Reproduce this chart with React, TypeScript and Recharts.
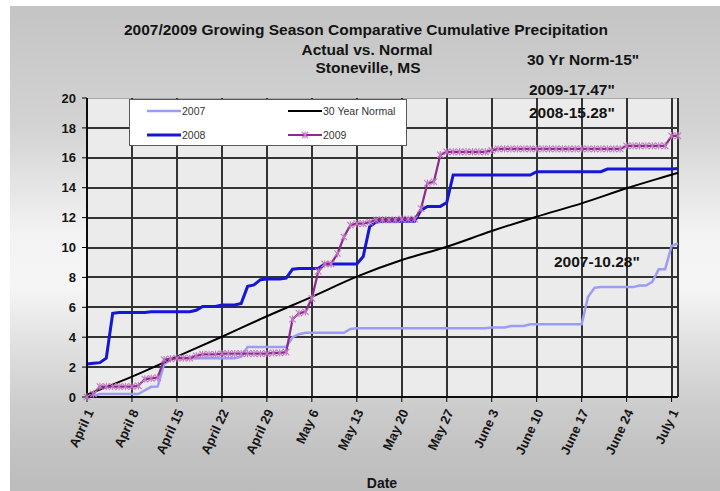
import { LineChart, Line, XAxis, YAxis, CartesianGrid, Legend } from 'recharts'

const FONT = '"Liberation Sans", Arial, Helvetica, sans-serif'

// days since April 1
const tickDays = [0, 7, 14, 21, 28, 35, 42, 49, 56, 63, 70, 77, 84, 91]
const tickLabels = [
  'April 1', 'April 8', 'April 15', 'April 22', 'April 29', 'May 6', 'May 13',
  'May 20', 'May 27', 'June 3', 'June 10', 'June 17', 'June 24', 'July 1',
]
const yTicks = [0, 2, 4, 6, 8, 10, 12, 14, 16, 18, 20]

// cumulative inches, one value per day, April 1 - July 2
const rain2007 = [
  0, 0.05, 0.2, 0.2, 0.2, 0.2, 0.2,
  0.2, 0.2, 0.45, 0.68, 0.7, 2.2, 2.5,
  2.6, 2.6, 2.6, 2.6, 2.6, 2.6, 2.6,
  2.6, 2.6, 2.6, 2.7, 3.35, 3.35, 3.35,
  3.35, 3.35, 3.35, 3.35, 4.0, 4.2, 4.3,
  4.3, 4.3, 4.3, 4.3, 4.3, 4.3, 4.55,
  4.6, 4.6, 4.6, 4.6, 4.6, 4.6, 4.6,
  4.6, 4.6, 4.6, 4.6, 4.6, 4.6, 4.6,
  4.6, 4.6, 4.6, 4.6, 4.6, 4.6, 4.6,
  4.65, 4.65, 4.65, 4.75, 4.75, 4.75, 4.86,
  4.86, 4.86, 4.86, 4.86, 4.86, 4.86, 4.86,
  4.86, 6.7, 7.3, 7.35, 7.35, 7.35, 7.35,
  7.35, 7.35, 7.45, 7.45, 7.7, 8.55, 8.55,
  10.1, 10.28,
]

const rain2008 = [
  2.2, 2.25, 2.3, 2.6, 5.6, 5.65, 5.65,
  5.65, 5.65, 5.65, 5.7, 5.7, 5.7, 5.7,
  5.7, 5.7, 5.7, 5.8, 6.05, 6.05, 6.05,
  6.15, 6.15, 6.15, 6.25, 7.4, 7.5, 7.85,
  7.9, 7.9, 7.9, 7.95, 8.55, 8.6, 8.6,
  8.6, 8.6, 8.9, 8.9, 8.9, 8.9, 8.9,
  8.9, 9.4, 11.4, 11.7, 11.75, 11.75, 11.75,
  11.75, 11.75, 11.75, 12.5, 12.75, 12.75, 12.75,
  13.0, 14.85, 14.85, 14.85, 14.85, 14.85, 14.85,
  14.85, 14.85, 14.85, 14.85, 14.85, 14.85, 14.85,
  15.07, 15.07, 15.07, 15.07, 15.07, 15.07, 15.07,
  15.07, 15.07, 15.07, 15.07, 15.25, 15.25, 15.25,
  15.25, 15.25, 15.25, 15.25, 15.25, 15.25, 15.25,
  15.25, 15.28,
]

const rain2009 = [
  0, 0.2, 0.7, 0.7, 0.7, 0.7, 0.7,
  0.7, 0.75, 1.2, 1.25, 1.3, 2.5, 2.55,
  2.6, 2.6, 2.6, 2.75, 2.85, 2.85, 2.85,
  2.9, 2.9, 2.9, 2.9, 2.9, 2.9, 2.9,
  2.9, 2.95, 2.95, 3.0, 5.2, 5.6, 5.7,
  6.6, 8.4, 8.9, 8.9, 9.6, 10.7, 11.5,
  11.6, 11.6, 11.7, 11.85, 11.85, 11.85, 11.85,
  11.9, 11.9, 11.9, 12.6, 14.3, 14.4, 16.2,
  16.4, 16.4, 16.4, 16.4, 16.4, 16.4, 16.4,
  16.5, 16.6, 16.6, 16.6, 16.6, 16.6, 16.6,
  16.6, 16.6, 16.6, 16.6, 16.6, 16.6, 16.6,
  16.6, 16.6, 16.6, 16.6, 16.6, 16.6, 16.6,
  16.8, 16.8, 16.8, 16.8, 16.8, 16.8, 16.8,
  17.47, 17.47,
]

// 30 year normal, read weekly
const normalDays = [0, 7, 14, 21, 28, 35, 42, 49, 56, 63, 70, 77, 84, 91, 92]
const normalValues = [0.15, 1.36, 2.7, 4.03, 5.4, 6.7, 8.05, 9.16, 10.05, 11.1, 12.06, 12.95, 13.96, 14.87, 15.0]

const rows = rain2007.map((_, d) => {
  const n = normalDays.indexOf(d)
  return {
    day: d,
    y2007: rain2007[d],
    y2008: rain2008[d],
    y2009: rain2009[d],
    normal: n >= 0 ? normalValues[n] : undefined,
  }
})

const C2007 = '#9c9cf6'
const C2008 = '#1616d6'
const C2009 = '#8a2c8a'
const CSTAR = '#c479c4'
const GRID = '#333333'

function StarDot(props: any) {
  const { cx, cy, index } = props
  if (cx == null || cy == null) return <g key={index} />
  const r = 3.2
  return (
    <g key={index} stroke={CSTAR} strokeWidth={1.1}>
      <line x1={cx - r} y1={cy - r} x2={cx + r} y2={cy + r} />
      <line x1={cx - r} y1={cy + r} x2={cx + r} y2={cy - r} />
      <line x1={cx} y1={cy - r - 0.5} x2={cx} y2={cy + r + 0.5} />
    </g>
  )
}

function DateTick({ x, y, payload }: any) {
  const label = tickLabels[tickDays.indexOf(payload.value)]
  const tx = x + 3
  const ty = y + 6
  return (
    <text
      x={tx} y={ty} dy="0.35em" textAnchor="end"
      transform={`rotate(-65 ${tx} ${ty})`}
      fontFamily={FONT} fontSize={13} fontWeight="bold" fill="#151515"
    >
      {label}
    </text>
  )
}

// plot border at the top is lighter than the grid in the original
function gridLine(p: any) {
  const top = p.y1 === p.y2 && Math.abs(p.y1 - p.y) < 0.5
  return (
    <line
      key={p.key} x1={p.x1} y1={p.y1} x2={p.x2} y2={p.y2}
      stroke={top ? '#a8a8a8' : GRID} strokeWidth={top ? 1 : 2}
      shapeRendering="crispEdges"
    />
  )
}

function Sample({ color, width, star }: { color: string; width: number; star?: boolean }) {
  return (
    <svg width={34} height={10} style={{ position: 'absolute', left: 0, top: 0 }}>
      <line x1={0} y1={5} x2={34} y2={5} stroke={color} strokeWidth={width} />
      {star && (
        <g stroke={CSTAR} strokeWidth={1.1}>
          <line x1={14} y1={2} x2={20} y2={8} />
          <line x1={14} y1={8} x2={20} y2={2} />
          <line x1={17} y1={1.5} x2={17} y2={8.5} />
        </g>
      )}
    </svg>
  )
}

function LegendBox() {
  const item = (left: number, top: number, label: string, sample: React.ReactNode) => (
    <div style={{ position: 'absolute', left, top, height: 10, width: 110 }}>
      {sample}
      <span style={{ position: 'absolute', left: 35, top: -2, fontSize: 10.5, lineHeight: '14px', color: '#333', whiteSpace: 'nowrap' }}>
        {label}
      </span>
    </div>
  )
  return (
    <div style={{
      position: 'relative', width: 278, height: 47, boxSizing: 'border-box',
      background: '#fff', border: '1px solid #5a5a5a', fontFamily: FONT,
    }}>
      {item(17, 6, '2007', <Sample color={C2007} width={2.5} />)}
      {item(158, 6, '30 Year Normal', <Sample color="#000" width={2} />)}
      {item(17, 30, '2008', <Sample color={C2008} width={3} />)}
      {item(158, 30, '2009', <Sample color={C2009} width={2} star />)}
    </div>
  )
}

export default function App() {
  const txt = { fontFamily: FONT, fontWeight: 'bold' as const, fill: '#141414' }
  return (
    <div style={{ position: 'absolute', left: 0, top: 0, width: 720, height: 491, background: '#fff', overflow: 'hidden' }}>
      <div style={{
        position: 'absolute', left: 10, top: 6, right: 0, bottom: 0,
        background: 'linear-gradient(to bottom, #c4c4c4 0%, #d3d3d3 25%, #f3f3f3 47%, #f5f5f5 58%, #e0e0e0 70%, #cdcdcd 82%, #c2c2c2 92%, #bcbcbc 100%)',
      }} />
      <div style={{ position: 'absolute', left: 0, top: 0 }}>
        <LineChart width={720} height={491} data={rows} margin={{ top: 98, right: 42, bottom: 0, left: 0 }}>
          <CartesianGrid
            fill="#ebebeb" fillOpacity={1}
            horizontal={gridLine} vertical={gridLine}
            stroke={GRID}
          />
          <XAxis
            dataKey="day" type="number" domain={[0, 92]} ticks={tickDays} interval={0}
            height={94} tickSize={5} axisLine={{ stroke: '#000', strokeWidth: 1.5 }}
            tickLine={{ stroke: '#000' }} tick={<DateTick />}
          />
          <YAxis
            domain={[0, 20]} ticks={yTicks} interval={0} width={87}
            tickSize={5} tickMargin={6}
            axisLine={{ stroke: '#000', strokeWidth: 1.5 }} tickLine={{ stroke: '#000' }}
            tick={{ fontFamily: FONT, fontSize: 13, fontWeight: 'bold', fill: '#151515' }}
          />
          <Legend
            content={<LegendBox />} layout="horizontal" verticalAlign="middle" align="center"
            wrapperStyle={{ left: 129, top: 99, width: 278, height: 47 }}
          />
          <Line dataKey="y2007" name="2007" type="linear" stroke={C2007} strokeWidth={2.5} dot={false} isAnimationActive={false} />
          <Line dataKey="normal" name="30 Year Normal" type="monotone" connectNulls stroke="#000" strokeWidth={2} dot={false} isAnimationActive={false} />
          <Line dataKey="y2008" name="2008" type="linear" stroke={C2008} strokeWidth={3} dot={false} isAnimationActive={false} />
          <Line dataKey="y2009" name="2009" type="linear" stroke={C2009} strokeWidth={2.2} dot={StarDot} isAnimationActive={false} />
        </LineChart>
      </div>
      <svg width={720} height={491} style={{ position: 'absolute', left: 0, top: 0, pointerEvents: 'none' }}>
        <text x={366} y={34.5} textAnchor="middle" fontSize={15.5} {...txt}>
          2007/2009 Growing Season Comparative Cumulative Precipitation
        </text>
        <text x={367} y={55} textAnchor="middle" fontSize={15.5} {...txt}>Actual vs. Normal</text>
        <text x={368} y={72.5} textAnchor="middle" fontSize={15.5} {...txt}>Stoneville, MS</text>
        <text x={527} y={64.5} fontSize={15.5} {...txt}>30 Yr Norm-15"</text>
        <text x={529} y={94.5} fontSize={15.5} {...txt}>2009-17.47"</text>
        <text x={529} y={117.5} fontSize={15.5} {...txt}>2008-15.28"</text>
        <text x={554} y={267} fontSize={15.5} {...txt}>2007-10.28"</text>
        <text x={382} y={488} textAnchor="middle" fontSize={14} {...txt}>Date</text>
      </svg>
    </div>
  )
}
